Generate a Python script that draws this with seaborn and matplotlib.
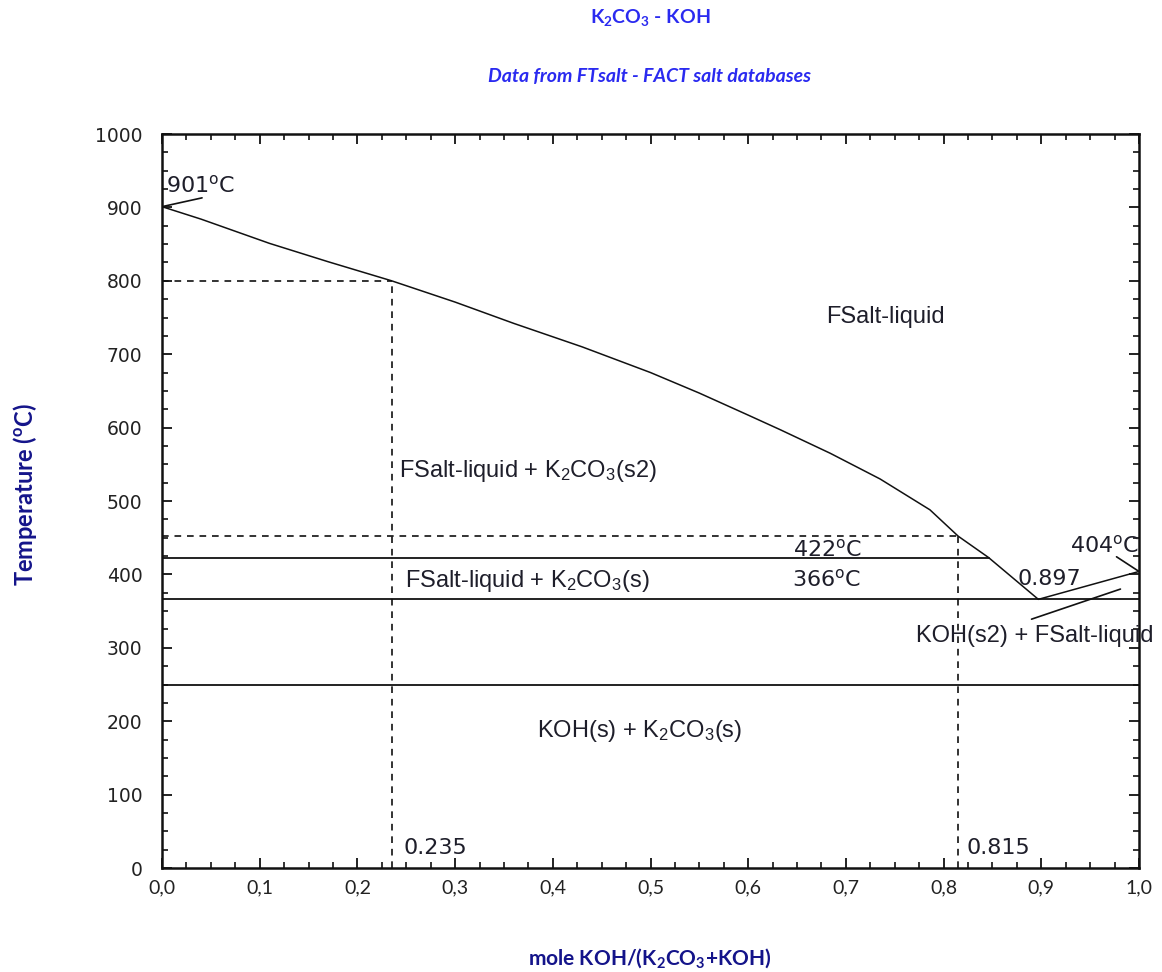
import numpy as np
import pandas as pd
import matplotlib
matplotlib.use("Agg")
import matplotlib.pyplot as plt
import seaborn as sns

# ---------------- data ----------------
# K2CO3 liquidus (mole fraction KOH, temperature in C)
liq_x = [0.0, 0.04, 0.11, 0.17, 0.235, 0.30, 0.36, 0.43, 0.50, 0.55, 0.60, 0.633, 0.684, 0.735, 0.786, 0.815, 0.846, 0.897]
liq_T = [901, 884, 851, 826, 800, 771, 742, 710, 675, 647, 617, 597, 565, 530, 488, 452, 423, 366]
# KOH liquidus
koh_x = [0.897, 1.0]
koh_T = [366, 404]
# invariant / horizontal lines (x_start, x_end, T)
solid_h_x0 = [0.0, 0.0, 0.0]
solid_h_x1 = [0.846, 1.0, 1.0]
solid_h_T = [422, 366, 250]
# dashed construction lines
dash_h_x1 = [0.235, 0.815]
dash_h_T = [800, 452]
dash_v_x = [0.235, 0.815]
dash_v_T = [800, 452]
# leader lines
lead_901_x, lead_901_T = [0.0, 0.041], [901, 913]
lead_404_x, lead_404_T = [0.977, 1.0], [424, 404]
lead_koh_x, lead_koh_T = [0.890, 0.981], [339, 380]

x_ticks = [0.0, 0.1, 0.2, 0.3, 0.4, 0.5, 0.6, 0.7, 0.8, 0.9, 1.0]
x_ticklabels = ["0,0", "0,1", "0,2", "0,3", "0,4", "0,5", "0,6", "0,7", "0,8", "0,9", "1,0"]
y_ticks = [0, 100, 200, 300, 400, 500, 600, 700, 800, 900, 1000]

K2CO3 = r"K$\mathregular{_2}$CO$\mathregular{_3}$"
DEG = r"$\mathregular{^o}$"

# ---------------- figure ----------------
sns.set_theme(style="ticks")
plt.rcParams["font.family"] = ["DejaVu Sans"]

W, H = 1162, 972
fig = plt.figure(figsize=(W / 100, H / 100), dpi=100)
ax = fig.add_axes([162 / W, 1 - 868 / H, (1139 - 162) / W, (868 - 134) / H])

lc = "#111111"
df_liq = pd.DataFrame({"x": liq_x, "T": liq_T})
sns.lineplot(data=df_liq, x="x", y="T", ax=ax, color=lc, lw=1.1, sort=False, estimator=None)
df_koh = pd.DataFrame({"x": koh_x, "T": koh_T})
sns.lineplot(data=df_koh, x="x", y="T", ax=ax, color=lc, lw=1.1, sort=False, estimator=None)

for x0, x1, t in zip(solid_h_x0, solid_h_x1, solid_h_T):
    ax.plot([x0, x1], [t, t], color=lc, lw=1.3)
for x1, t in zip(dash_h_x1, dash_h_T):
    ax.plot([0, x1], [t, t], color=lc, lw=1.2, dashes=(4, 3.5))
for x, t in zip(dash_v_x, dash_v_T):
    ax.plot([x, x], [0, t], color=lc, lw=1.2, dashes=(4, 3.5))
for lx, lt in [(lead_901_x, lead_901_T), (lead_404_x, lead_404_T), (lead_koh_x, lead_koh_T)]:
    ax.plot(lx, lt, color=lc, lw=1.2)

ax.set_xlim(0, 1)
ax.set_ylim(0, 1000)
ax.set_xticks(x_ticks)
ax.set_xticklabels(x_ticklabels, fontfamily="Lato", fontsize=14, color="#222222")
ax.set_xticks(np.arange(0, 1.0001, 0.025), minor=True)
ax.set_yticks(y_ticks)
ax.set_yticklabels([str(v) for v in y_ticks], fontfamily="DejaVu Sans", fontsize=13.5, color="#222222")
ax.set_yticks(np.arange(0, 1001, 25), minor=True)
ax.tick_params(which="both", direction="in", top=True, right=True, color="#111111")
ax.tick_params(which="major", length=7, width=1.3)
ax.tick_params(which="minor", length=4, width=1.2)
ax.tick_params(axis="y", which="major", pad=14)
ax.tick_params(axis="x", which="major", pad=8)
ax.set_xlabel("")
ax.set_ylabel("")
for s in ax.spines.values():
    s.set_linewidth(1.8)
    s.set_color("#111111")
    s.set_visible(True)

# ---------------- annotations ----------------
tc = "#1e1e2a"
arial = dict(fontfamily="Liberation Sans", fontsize=17, color=tc)
verd = dict(fontfamily="DejaVu Sans", fontsize=16, color=tc)

ax.text(0.004, 920, "901" + DEG + "C", ha="left", va="baseline", **verd)
ax.text(0.740, 742, "FSalt-liquid", ha="center", va="baseline", **arial)
ax.text(0.243, 533, "FSalt-liquid + " + K2CO3 + "(s2)", ha="left", va="baseline", **arial)
ax.text(0.249, 383, "FSalt-liquid + " + K2CO3 + "(s)", ha="left", va="baseline", **arial)
ax.text(0.6455, 424, "422" + DEG + "C", ha="left", va="baseline", **verd)
ax.text(0.6445, 383, "366" + DEG + "C", ha="left", va="baseline", **verd)
ax.text(0.876, 385.5, "0.897", ha="left", va="baseline", **verd)
ax.text(0.929, 429.6, "404" + DEG + "C", ha="left", va="baseline", **verd)
ax.text(0.772, 308, "KOH(s2) + FSalt-liquid", ha="left", va="baseline", **arial)
ax.text(0.489, 178.5, "KOH(s) + " + K2CO3 + "(s)", ha="center", va="baseline", **arial)
ax.text(0.2467, 19, "0.235", ha="left", va="baseline", **verd)
ax.text(0.823, 19, "0.815", ha="left", va="baseline", **verd)

# ---------------- titles & axis labels ----------------
blue = "#2a2af0"
navy = "#14148a"
cx = 650 / W
fig.text(cx, 1 - 18 / H, K2CO3 + " - KOH", ha="center", va="center",
         fontfamily="Lato", fontweight="bold", fontsize=14, color=blue)
fig.text(cx, 1 - 76 / H, "Data from FTsalt - FACT salt databases", ha="center", va="center",
         fontfamily="Lato", fontweight="bold", fontstyle="italic", fontsize=14, color=blue)
fig.text(cx, 1 - 958 / H, "mole KOH/(" + K2CO3 + "+KOH)", ha="center", va="center",
         fontfamily="Lato", fontweight="bold", fontsize=15, color=navy)
fig.text(25 / W, 1 - 495 / H, "Temperature (" + DEG + "C)", ha="center", va="center",
         rotation=90, fontfamily="Lato", fontweight="bold", fontsize=17, color=navy)

fig.savefig("out.png", dpi=100, facecolor="white")
